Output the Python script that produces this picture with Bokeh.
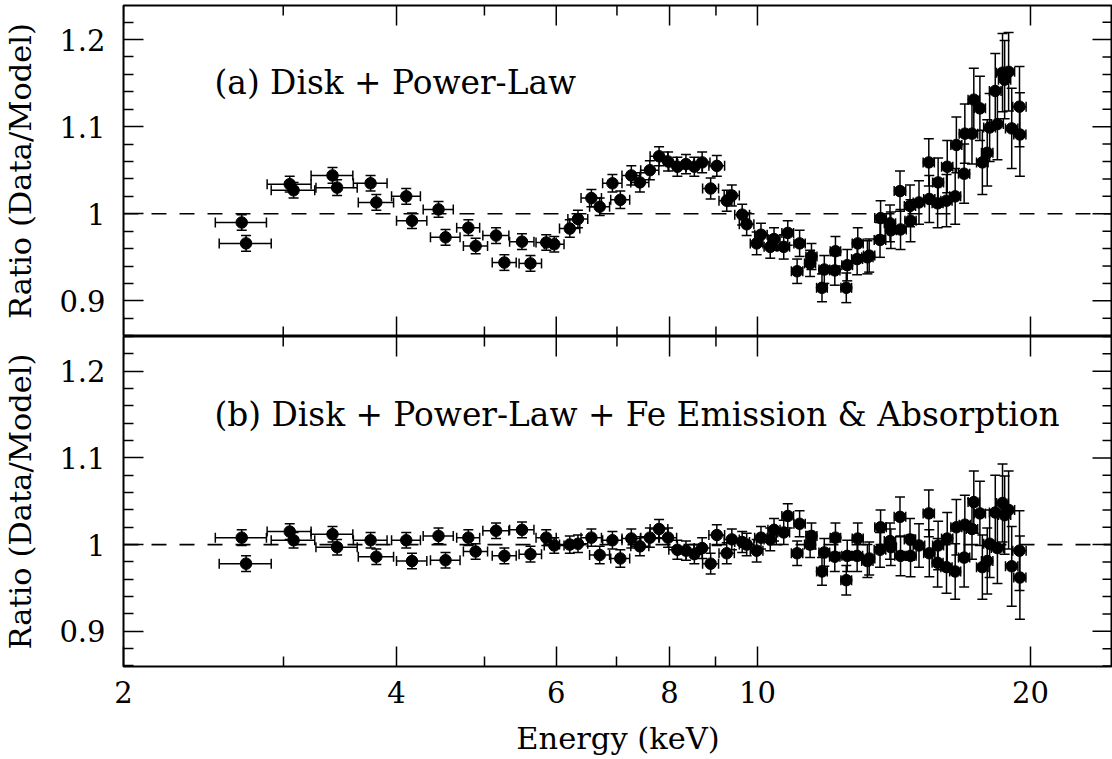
import numpy as np
from bokeh.plotting import figure
from bokeh.models import (Range1d, FixedTicker, Whisker, TeeHead,
                          ColumnDataSource, Span, Label, CustomJSTickFormatter)
from bokeh.layouts import column
from bokeh.embed import file_html
from bokeh.resources import INLINE

# ---------------- data ----------------
energy = [2.70, 2.73, 3.05, 3.08, 3.40, 3.44, 3.745, 3.80, 4.10, 4.16,
          4.45, 4.53, 4.80, 4.89, 5.15, 5.26, 5.50, 5.62, 5.85, 5.97,
          6.21, 6.34, 6.56, 6.70, 6.92, 7.06, 7.26, 7.42, 7.61, 7.79,
          7.97, 8.16, 8.34, 8.52, 8.69, 8.88, 9.02, 9.25, 9.37, 9.62,
          9.73, 9.98, 10.09, 10.33, 10.43, 10.69, 10.80, 11.06, 11.13, 11.43,
          11.47, 11.78, 11.85, 12.17, 12.19, 12.53, 12.56, 12.88, 12.90, 13.22,
          13.28, 13.65, 13.67, 14.00, 14.03, 14.36, 14.38, 14.73, 14.75, 15.07,
          15.45, 15.47, 15.82, 15.80, 16.19, 16.16, 16.57, 16.52, 16.90, 16.93,
          17.24, 17.32, 17.59, 17.70, 17.92, 18.03, 18.29, 18.39, 18.63, 18.73,
          18.92, 19.07, 19.45, 19.47]

ratio_a = [0.990, 0.966, 1.034, 1.027, 1.044, 1.030, 1.035, 1.013, 1.020, 0.992,
           1.005, 0.973, 0.984, 0.963, 0.975, 0.944, 0.968, 0.943, 0.967, 0.965,
           0.983, 0.994, 1.018, 1.008, 1.035, 1.016, 1.044, 1.036, 1.050, 1.066,
           1.060, 1.054, 1.057, 1.054, 1.059, 1.029, 1.055, 1.015, 1.021, 0.999,
           0.988, 0.966, 0.976, 0.962, 0.971, 0.962, 0.978, 0.934, 0.966, 0.943,
           0.951, 0.915, 0.936, 0.935, 0.957, 0.915, 0.941, 0.948, 0.966, 0.950,
           0.952, 0.970, 0.995, 0.989, 0.981, 1.026, 0.982, 1.009, 0.992, 1.013,
           1.059, 1.017, 1.036, 1.012, 1.054, 1.015, 1.079, 1.020, 1.046, 1.092,
           1.092, 1.131, 1.121, 1.059, 1.070, 1.099, 1.141, 1.103, 1.162, 1.154,
           1.163, 1.098, 1.123, 1.091]

ratio_b = [1.008, 0.978, 1.015, 1.005, 1.012, 0.997, 1.005, 0.986, 1.005, 0.981,
           1.010, 0.982, 1.008, 0.992, 1.016, 0.987, 1.017, 0.989, 1.008, 0.999,
           1.000, 1.001, 1.008, 0.988, 1.005, 0.984, 1.007, 0.998, 1.008, 1.018,
           1.008, 0.994, 0.993, 0.989, 0.996, 0.978, 1.011, 0.990, 1.006, 1.003,
           1.000, 0.993, 1.008, 1.006, 1.017, 1.014, 1.033, 0.990, 1.024, 1.000,
           1.010, 0.969, 0.991, 0.986, 1.008, 0.959, 0.987, 0.987, 1.007, 0.981,
           0.984, 0.994, 1.020, 1.004, 0.997, 1.032, 0.987, 1.006, 0.987, 0.999,
           1.036, 0.990, 0.999, 0.979, 1.007, 0.974, 1.020, 0.969, 0.985, 1.023,
           1.018, 1.049, 1.036, 0.974, 0.981, 1.001, 1.037, 0.996, 1.048, 1.034,
           1.040, 0.975, 0.993, 0.962]

ratio_err = [0.009, 0.009, 0.009, 0.009, 0.009, 0.009, 0.009, 0.009, 0.009, 0.009,
             0.009, 0.009, 0.009, 0.009, 0.009, 0.009, 0.009, 0.009, 0.009, 0.009,
             0.010, 0.010, 0.010, 0.010, 0.010, 0.010, 0.011, 0.011, 0.011, 0.011,
             0.011, 0.011, 0.011, 0.011, 0.012, 0.012, 0.012, 0.012, 0.012, 0.012,
             0.013, 0.013, 0.013, 0.013, 0.013, 0.014, 0.014, 0.014, 0.015, 0.015,
             0.015, 0.016, 0.016, 0.017, 0.017, 0.017, 0.018, 0.018, 0.018, 0.019,
             0.019, 0.020, 0.020, 0.021, 0.021, 0.023, 0.023, 0.024, 0.024, 0.025,
             0.027, 0.027, 0.028, 0.028, 0.030, 0.030, 0.032, 0.032, 0.034, 0.034,
             0.035, 0.036, 0.037, 0.037, 0.038, 0.039, 0.043, 0.041, 0.045, 0.045,
             0.045, 0.046, 0.046, 0.048]

energy_halfwidth = [0.175, 0.18, 0.17, 0.17, 0.18, 0.18, 0.16, 0.17, 0.15, 0.16,
                    0.17, 0.17, 0.14, 0.15, 0.17, 0.16, 0.17, 0.16, 0.15, 0.15,
                    0.16, 0.16, 0.17, 0.17, 0.17, 0.17, 0.17, 0.17, 0.175, 0.175,
                    0.175, 0.175, 0.175, 0.175, 0.175, 0.18, 0.18, 0.18, 0.18, 0.18,
                    0.18, 0.16, 0.16, 0.16, 0.16, 0.16, 0.16, 0.16, 0.16, 0.16,
                    0.16, 0.16, 0.16, 0.16, 0.16, 0.17, 0.17, 0.18, 0.18, 0.19,
                    0.19, 0.20, 0.20, 0.20, 0.20, 0.21, 0.21, 0.21, 0.21, 0.22,
                    0.22, 0.22, 0.22, 0.22, 0.23, 0.23, 0.23, 0.23, 0.24, 0.24,
                    0.25, 0.25, 0.25, 0.26, 0.26, 0.27, 0.27, 0.28, 0.28, 0.29,
                    0.29, 0.30, 0.33, 0.30]

x_tick_values = [2, 4, 6, 8, 10, 20]
x_minor_values = [3, 5, 7, 9]
y_tick_values = [0.9, 1.0, 1.1, 1.2]
y_minor_values = [0.86, 0.88, 0.92, 0.94, 0.96, 0.98, 1.02, 1.04, 1.06, 1.08,
                  1.12, 1.14, 1.16, 1.18, 1.22, 1.24]

label_a = "(a) Disk + Power-Law"
label_b = "(b) Disk + Power-Law + Fe Emission & Absorption"
y_title = "Ratio (Data/Model)"
x_title = "Energy (keV)"

FONT = "DejaVu Serif"
TICK_FS = "29px"
TITLE_FS = "30.5px"
NOTE_FS = "32.8px"

X_MIN, X_MAX = 2.0, 24.63
x_range = Range1d(X_MIN, X_MAX)

MAJOR_LEN = 20   # inward tick length, px
MINOR_LEN = 10


def style_axis(ax, ticker):
    ax.ticker = ticker
    ax.major_tick_in = MAJOR_LEN
    ax.major_tick_out = 0
    ax.minor_tick_in = MINOR_LEN
    ax.minor_tick_out = 0
    ax.major_tick_line_width = 1.5
    ax.minor_tick_line_width = 1.5
    ax.major_tick_line_color = "black"
    ax.minor_tick_line_color = "black"
    ax.axis_line_color = None
    ax.major_label_text_font = FONT
    ax.major_label_text_font_size = TICK_FS
    ax.major_label_text_color = "black"


def edge_ticks(p, along, positions, edge_value, length):
    """Inward tick marks on a frame edge that has no labelled axis:
    dash markers centred on the edge, the outer half is clipped by the frame."""
    n = len(positions)
    if along == "x":
        p.scatter(x=positions, y=[edge_value] * n, marker="dash", angle=np.pi / 2,
                  size=2 * length, line_color="black", line_width=1.5)
    else:
        p.scatter(x=[edge_value] * n, y=positions, marker="dash", angle=0,
                  size=2 * length, line_color="black", line_width=1.5)


def make_panel(ratio, note, height, y0, y1, top_border, bottom_border, with_xaxis):
    p = figure(width=1112, height=height, x_axis_type="log",
               x_range=x_range, y_range=Range1d(y0, y1),
               x_axis_location="below" if with_xaxis else None,
               output_backend="svg", toolbar_location=None,
               min_border_left=123, min_border_right=0,
               min_border_top=top_border, min_border_bottom=bottom_border)
    p.grid.visible = False
    p.background_fill_color = "white"
    p.border_fill_color = "white"
    p.outline_line_color = "black"
    p.outline_line_width = 2

    # left axis (labelled)
    yax = p.yaxis[0]
    style_axis(yax, FixedTicker(ticks=y_tick_values, minor_ticks=y_minor_values))
    yax.formatter = CustomJSTickFormatter(code="return String(Math.round(tick*10)/10);")
    yax.major_label_standoff = 18
    yax.axis_label = y_title
    yax.axis_label_text_font = FONT
    yax.axis_label_text_font_size = TITLE_FS
    yax.axis_label_text_font_style = "normal"
    yax.axis_label_text_color = "black"
    yax.axis_label_standoff = 18

    if with_xaxis:
        xax = p.xaxis[0]
        style_axis(xax, FixedTicker(ticks=x_tick_values, minor_ticks=x_minor_values))
        xax.formatter = CustomJSTickFormatter(code="return String(tick);")
        xax.major_label_standoff = 14
        xax.axis_label = x_title
        xax.axis_label_text_font = FONT
        xax.axis_label_text_font_size = TITLE_FS
        xax.axis_label_text_font_style = "normal"
        xax.axis_label_text_color = "black"
        xax.axis_label_standoff = 15
    else:
        edge_ticks(p, "x", x_tick_values, y0, MAJOR_LEN)
        edge_ticks(p, "x", x_minor_values, y0, MINOR_LEN)

    # mirrored ticks: top and right edges
    edge_ticks(p, "x", x_tick_values, y1, MAJOR_LEN)
    edge_ticks(p, "x", x_minor_values, y1, MINOR_LEN)
    edge_ticks(p, "y", y_tick_values, X_MAX, MAJOR_LEN)
    edge_ticks(p, "y", y_minor_values, X_MAX, MINOR_LEN)

    # reference line
    p.add_layout(Span(location=1.0, dimension="width", line_color="black",
                      line_width=1.7, line_dash="15 13"))

    e = np.array(energy)
    r = np.array(ratio)
    dr = np.array(ratio_err)
    de = np.array(energy_halfwidth)
    src = ColumnDataSource(dict(x=e, y=r, yl=r - dr, yu=r + dr, xl=e - de, xu=e + de))

    p.add_layout(Whisker(source=src, base="x", lower="yl", upper="yu", dimension="height",
                         line_color="black", line_width=1.5,
                         lower_head=TeeHead(size=10, line_width=1.5, line_color="black"),
                         upper_head=TeeHead(size=10, line_width=1.5, line_color="black")))
    p.add_layout(Whisker(source=src, base="y", lower="xl", upper="xu", dimension="width",
                         line_color="black", line_width=1.5,
                         lower_head=TeeHead(size=10, line_width=1.5, line_color="black"),
                         upper_head=TeeHead(size=10, line_width=1.5, line_color="black")))
    p.scatter("x", "y", source=src, size=11.5, color="black")

    p.add_layout(Label(x=2.52, y=1.15, text=note, text_font=FONT,
                       text_font_size=NOTE_FS, text_color="black",
                       text_baseline="alphabetic", text_align="left"))
    return p


p_top = make_panel(ratio_a, label_a, 336, 0.8591, 1.2391, 5, 0, False)
p_bot = make_panel(ratio_b, label_b, 422, 0.8594, 1.2400, 0, 91, True)

layout = column(p_top, p_bot, spacing=0)

with open("out.html", "w") as f:
    f.write(file_html(layout, INLINE))
